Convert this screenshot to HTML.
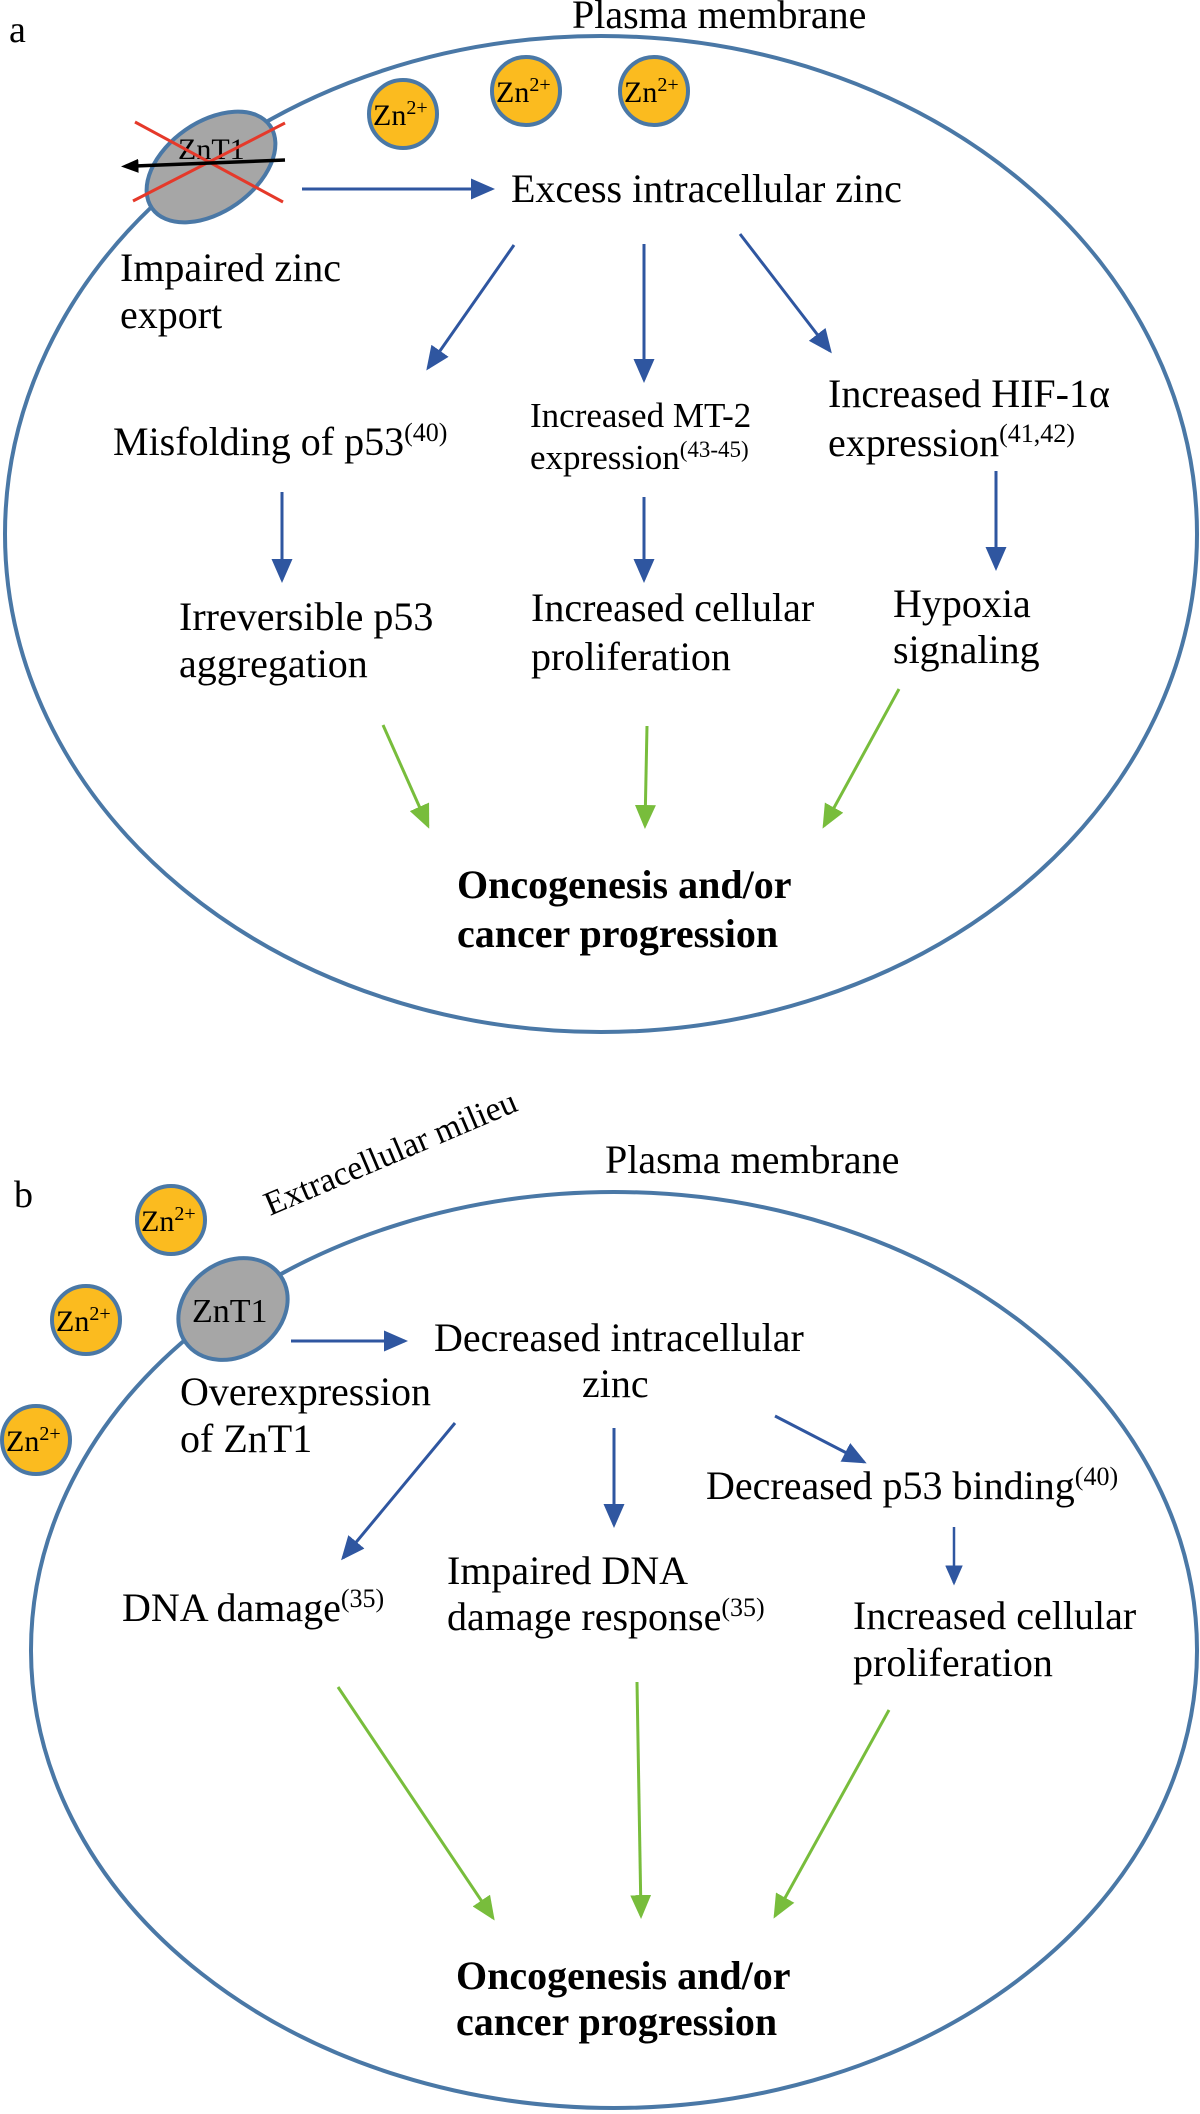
<!DOCTYPE html>
<html><head><meta charset="utf-8"><style>
html,body{margin:0;padding:0;background:#fff}
svg{display:block;font-family:"Liberation Serif","Times New Roman",serif}
text{font-family:"Liberation Serif","Times New Roman",serif;fill:#000}
</style></head><body>
<svg width="1200" height="2114" viewBox="0 0 1200 2114" xmlns="http://www.w3.org/2000/svg" font-family="Liberation Serif, serif">
<defs>
<marker id="ab" markerWidth="8" markerHeight="7" refX="7" refY="3.5" orient="auto" markerUnits="strokeWidth"><path d="M0,0 L8,3.5 L0,7 z" fill="#2f56a0"/></marker>
<marker id="ag" markerWidth="8" markerHeight="7" refX="7" refY="3.5" orient="auto" markerUnits="strokeWidth"><path d="M0,0 L8,3.5 L0,7 z" fill="#78bd3c"/></marker>
<marker id="ak" markerWidth="5" markerHeight="4" refX="1" refY="2" orient="auto-start-reverse" markerUnits="strokeWidth"><path d="M0,0 L5,2 L0,4 z" fill="#000"/></marker>
</defs>
<!-- Panel a -->
<text x="9" y="42" font-size="38">a</text>
<text x="572" y="28" font-size="40">Plasma membrane</text>
<ellipse cx="601" cy="534" rx="596" ry="498" fill="none" stroke="#4a78a6" stroke-width="4"/>
<g stroke="#4a78a6" stroke-width="4" fill="#fbbb1f">
<circle cx="403" cy="114" r="34"/><circle cx="526" cy="91" r="34"/><circle cx="654" cy="91" r="34"/>
</g>
<text x="373" y="125" font-size="30">Zn<tspan font-size="20" dy="-11">2+</tspan></text>
<text x="496" y="102" font-size="30">Zn<tspan font-size="20" dy="-11">2+</tspan></text>
<text x="624" y="102" font-size="30">Zn<tspan font-size="20" dy="-11">2+</tspan></text>
<ellipse cx="211" cy="167" rx="72" ry="45" transform="rotate(-35 211 167)" fill="#a6a6a6" stroke="#4a78a6" stroke-width="4"/>
<text x="178" y="159" font-size="30">ZnT1</text>
<line x1="135" y1="122" x2="283" y2="202" stroke="#e5392a" stroke-width="3"/>
<line x1="133" y1="201" x2="285" y2="123" stroke="#e5392a" stroke-width="3"/>
<line x1="285" y1="160" x2="135" y2="166" stroke="#000" stroke-width="3.5" marker-end="url(#ak)"/>
<text x="120" y="281" font-size="40">Impaired zinc</text>
<text x="120" y="328" font-size="40">export</text>
<text x="511" y="202" font-size="40">Excess intracellular zinc</text>
<g stroke="#2f56a0" stroke-width="3" marker-end="url(#ab)">
<line x1="302" y1="189" x2="492" y2="189"/>
<line x1="514" y1="245" x2="428" y2="368"/>
<line x1="644" y1="244" x2="644" y2="380"/>
<line x1="740" y1="234" x2="830" y2="351"/>
<line x1="282" y1="492" x2="282" y2="580"/>
<line x1="644" y1="497" x2="644" y2="580"/>
<line x1="996" y1="471" x2="996" y2="568"/>
</g>
<text x="113" y="455" font-size="40">Misfolding of p53<tspan font-size="26" dy="-14">(40)</tspan></text>
<text x="530" y="427" font-size="35">Increased MT-2</text>
<text x="530" y="469" font-size="35">expression<tspan font-size="23" dy="-12">(43-45)</tspan></text>
<text x="828" y="407" font-size="40">Increased HIF-1α</text>
<text x="828" y="456" font-size="40">expression<tspan font-size="26" dy="-14">(41,42)</tspan></text>
<text x="179" y="630" font-size="40">Irreversible p53</text>
<text x="179" y="677" font-size="40">aggregation</text>
<text x="531" y="621" font-size="40">Increased cellular</text>
<text x="531" y="670" font-size="40">proliferation</text>
<text x="893" y="617" font-size="40">Hypoxia</text>
<text x="893" y="663" font-size="40">signaling</text>
<g stroke="#78bd3c" stroke-width="3" marker-end="url(#ag)">
<line x1="383" y1="725" x2="428" y2="826"/>
<line x1="647" y1="726" x2="645" y2="826"/>
<line x1="899" y1="689" x2="824" y2="826"/>
</g>
<text x="457" y="898" font-size="40" font-weight="bold">Oncogenesis and/or</text>
<text x="457" y="947" font-size="40" font-weight="bold">cancer progression</text>

<!-- Panel b -->
<text x="14" y="1207" font-size="38">b</text>
<text x="605" y="1173" font-size="40">Plasma membrane</text>
<text x="270" y="1216" font-size="34" transform="rotate(-23 270 1216)">Extracellular milieu</text>
<ellipse cx="614" cy="1650" rx="583" ry="458" fill="none" stroke="#4a78a6" stroke-width="4"/>
<g stroke="#4a78a6" stroke-width="4" fill="#fbbb1f">
<circle cx="171" cy="1220" r="34"/><circle cx="86" cy="1320" r="34"/><circle cx="36" cy="1440" r="34"/>
</g>
<text x="141" y="1231" font-size="30">Zn<tspan font-size="20" dy="-11">2+</tspan></text>
<text x="56" y="1331" font-size="30">Zn<tspan font-size="20" dy="-11">2+</tspan></text>
<text x="6" y="1451" font-size="30">Zn<tspan font-size="20" dy="-11">2+</tspan></text>
<ellipse cx="233" cy="1309" rx="58" ry="47" transform="rotate(-35 233 1309)" fill="#a6a6a6" stroke="#4a78a6" stroke-width="4"/>
<text x="192" y="1322" font-size="34">ZnT1</text>
<text x="180" y="1405" font-size="40">Overexpression</text>
<text x="180" y="1452" font-size="40">of ZnT1</text>
<text x="434" y="1351" font-size="40">Decreased intracellular</text>
<text x="582" y="1397" font-size="40">zinc</text>
<g stroke="#2f56a0" stroke-width="3" marker-end="url(#ab)">
<line x1="291" y1="1341" x2="405" y2="1341"/>
<line x1="455" y1="1423" x2="343" y2="1558"/>
<line x1="614" y1="1428" x2="614" y2="1525"/>
<line x1="775" y1="1416" x2="864" y2="1462"/>
</g>
<line x1="954" y1="1527" x2="954" y2="1583" stroke="#2f56a0" stroke-width="2.5" marker-end="url(#ab)"/>
<text x="706" y="1499" font-size="40">Decreased p53 binding<tspan font-size="26" dy="-14">(40)</tspan></text>
<text x="122" y="1621" font-size="40">DNA damage<tspan font-size="26" dy="-14">(35)</tspan></text>
<text x="447" y="1584" font-size="40">Impaired DNA</text>
<text x="447" y="1630" font-size="40">damage response<tspan font-size="26" dy="-14">(35)</tspan></text>
<text x="853" y="1629" font-size="40">Increased cellular</text>
<text x="853" y="1676" font-size="40">proliferation</text>
<g stroke="#78bd3c" stroke-width="3" marker-end="url(#ag)">
<line x1="338" y1="1687" x2="493" y2="1918"/>
<line x1="637" y1="1682" x2="641" y2="1916"/>
<line x1="889" y1="1710" x2="775" y2="1916"/>
</g>
<text x="456" y="1989" font-size="40" font-weight="bold">Oncogenesis and/or</text>
<text x="456" y="2035" font-size="40" font-weight="bold">cancer progression</text>
</svg>
</body></html>
